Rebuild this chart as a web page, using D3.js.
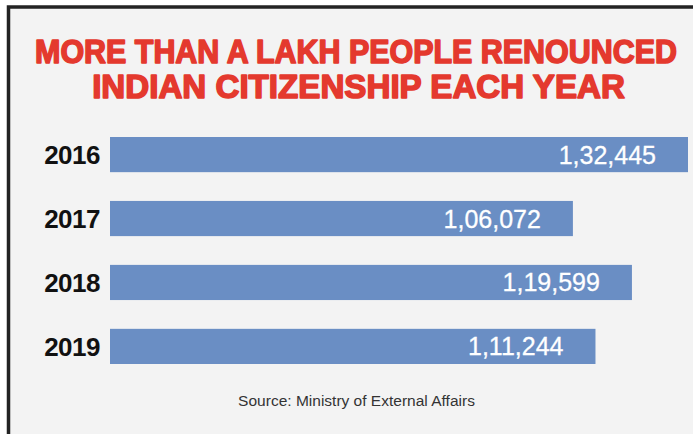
<!DOCTYPE html>
<html>
<head>
<meta charset="utf-8">
<script src="https://cdn.jsdelivr.net/npm/d3@7"></script>
<style>
  body { margin: 0; background: #fff; }
  svg { display: block; }
</style>
</head>
<body>
<div id="chart"></div>
<script>
var years = ["2016", "2017", "2018", "2019"];
var renounced = [132445, 106072, 119599, 111244];
var valueLabels = ["1,32,445", "1,06,072", "1,19,599", "1,11,244"];
var titleLines = ["MORE THAN A LAKH PEOPLE RENOUNCED", "INDIAN CITIZENSHIP EACH YEAR"];
var sourceText = "Source: Ministry of External Affairs";

var width = 693, height = 434;

var data = years.map(function(y, i) {
  return {year: y, value: renounced[i], label: valueLabels[i]};
});

var svg = d3.select("#chart")
  .append("svg")
    .attr("width", width)
    .attr("height", height);

// panel with dark frame (cropped on right and bottom)
svg.append("rect")
  .attr("x", 8.5)
  .attr("y", 7)
  .attr("width", width + 20)
  .attr("height", height + 20)
  .attr("fill", "#f3f3f3")
  .attr("stroke", "#232323")
  .attr("stroke-width", 3.5);

// squeeze a text horizontally to a given width, centred on cx
function fitText(sel, cx, cy, w) {
  var natural = sel.node().getComputedTextLength();
  sel.attr("x", 0)
    .attr("y", 0)
    .attr("text-anchor", "middle")
    .attr("transform", "translate(" + cx + "," + cy + ") scale(" + (w / natural) + ",1)");
}

// title
var titleWidths = [642, 533];
var titleX = [356, 358.5];
svg.selectAll(".title")
  .data(titleLines)
  .enter()
  .append("text")
    .attr("class", "title")
    .attr("font-family", "'Liberation Sans', Arial, sans-serif")
    .attr("font-weight", "bold")
    .attr("font-size", "33.5px")
    .attr("fill", "#e4392e")
    .attr("stroke", "#e4392e")
    .attr("stroke-width", 1.6)
    .attr("stroke-linejoin", "round")
    .text(function(d) { return d; })
    .each(function(d, i) {
      fitText(d3.select(this), titleX[i], 63 + i * 35, titleWidths[i]);
    });

var x = d3.scaleLinear()
  .domain([0, d3.max(renounced)])
  .range([110, 688]);

var y = d3.scaleBand()
  .domain(years)
  .range([137, 364])
  .paddingInner(0.45)
  .paddingOuter(0);

var rows = svg.selectAll(".row")
  .data(data)
  .enter()
  .append("g")
    .attr("class", "row");

rows.append("rect")
  .attr("x", x(0))
  .attr("y", function(d) { return y(d.year); })
  .attr("width", function(d) { return x(d.value) - x(0); })
  .attr("height", y.bandwidth())
  .attr("fill", "#6a8ec4");

var yAXIS = svg.append("g")
  .attr("transform", "translate(" + (x(0) - 10) + ",0)")
  .call(d3.axisLeft(y).tickSize(0).tickPadding(0));

yAXIS.select(".domain").remove();
yAXIS.selectAll("text")
  .attr("dy", "0.36em")
  .attr("font-family", "'Liberation Sans', Arial, sans-serif")
  .attr("font-weight", "bold")
  .attr("font-size", "26px")
  .attr("letter-spacing", "-0.5px")
  .attr("fill", "#111");

rows.append("text")
  .attr("x", function(d) { return x(d.value) - 32; })
  .attr("y", function(d) { return y(d.year) + y.bandwidth() / 2; })
  .attr("dy", "0.36em")
  .attr("text-anchor", "end")
  .attr("font-family", "'Liberation Sans', Arial, sans-serif")
  .attr("font-size", "25px")
  .attr("fill", "#fff")
  .attr("stroke", "#fff")
  .attr("stroke-width", 0.3)
  .text(function(d) { return d.label; });

svg.append("text")
  .attr("font-family", "'Liberation Sans', Arial, sans-serif")
  .attr("font-size", "15px")
  .attr("fill", "#333")
  .text(sourceText)
  .call(fitText, 356.5, 406, 237);
</script>
</body>
</html>
